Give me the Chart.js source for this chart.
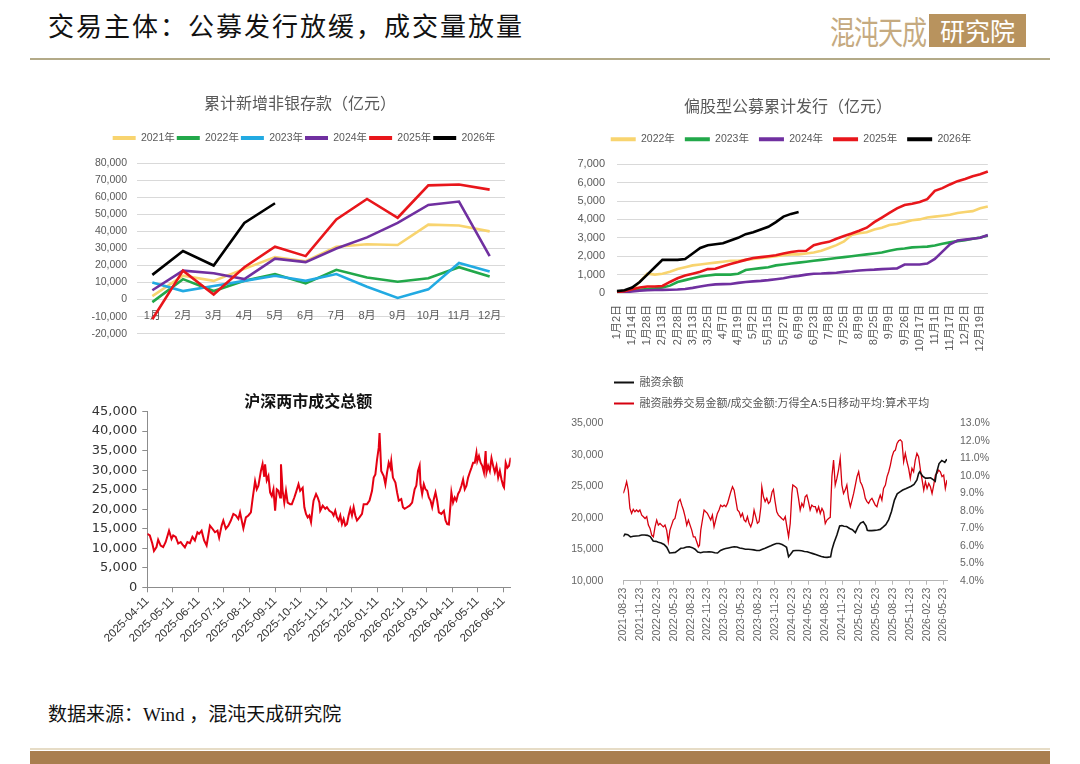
<!DOCTYPE html>
<html><head><meta charset="utf-8">
<script src="https://cdn.jsdelivr.net/npm/chart.js@4.4.1/dist/chart.umd.min.js"></script>
<style>
html,body{margin:0;padding:0;background:#fff;}
body{width:1080px;height:764px;position:relative;overflow:hidden;font-family:"Noto Sans CJK SC",sans-serif;}
.hdr{position:absolute;left:48px;top:6px;font-size:26px;line-height:38px;color:#111;letter-spacing:2px;white-space:nowrap;}
.rule{position:absolute;left:30px;top:58px;width:1020px;height:2px;background:#b3aa88;}
.logo1{position:absolute;left:830px;top:10px;font-size:25px;line-height:40px;color:#c5aa80;letter-spacing:-1px;transform:scaleY(1.25);transform-origin:left center;}
.logo2{position:absolute;left:929px;top:14px;width:97px;height:33px;background:#b8935e;color:#fff;font-size:25px;line-height:33px;text-align:center;}
.src{position:absolute;left:48px;top:700px;font-size:19px;line-height:30px;color:#111;font-family:"Liberation Serif","Noto Sans CJK SC",serif;white-space:nowrap;}
.bandline{position:absolute;left:30px;top:748px;width:1020px;height:2px;background:#e6dcc6;}
.band{position:absolute;left:30px;top:751px;width:1020px;height:13px;background:#a97e4f;}
canvas{position:absolute;}
</style></head>
<body>
<div class="hdr">交易主体：公募发行放缓，成交量放量</div>
<div class="logo1">混沌天成</div>
<div class="logo2">研究院</div>
<div class="rule"></div>
<canvas id="c1" width="470" height="262" style="left:57px;top:88px"></canvas>
<canvas id="c2" width="445" height="270" style="left:560px;top:88px"></canvas>
<canvas id="c3" width="440" height="270" style="left:90px;top:392px"></canvas>
<canvas id="c4" width="420" height="290" style="left:570px;top:367px"></canvas>
<div class="src">数据来源：Wind ，混沌天成研究院</div>
<div class="bandline"></div>
<div class="band"></div>
<script>
// ---------- Chart 1: 累计新增非银存款（亿元） ----------
const depositMonths = ['1月','2月','3月','4月','5月','6月','7月','8月','9月','10月','11月','12月'];
const deposit2021 = [2000,14000,11000,18000,25000,22500,31000,32500,32000,44000,43500,40000];
const deposit2022 = [-1500,12000,5000,11000,15000,9500,17500,13000,10500,12500,19000,13500];
const deposit2023 = [10000,5000,8000,11000,14000,11000,15000,7500,1000,6000,21500,16500];
const deposit2024 = [5500,17000,15500,12000,24000,22000,30000,36500,45000,55500,57500,25500];
const deposit2025 = [-11500,17000,3000,19000,31000,25500,47000,59000,48000,67000,67500,64500];
const deposit2026 = [14500,28500,20000,45000,56500];

// ---------- Chart 2: 偏股型公募累计发行（亿元） ----------
const fundDates = ['1月2日','1月8日','1月14日','1月21日','1月28日','2月6日','2月13日','2月21日','2月28日','3月7日',
  '3月13日','3月19日','3月25日','4月1日','4月7日','4月13日','4月19日','4月26日','5月2日','5月9日',
  '5月15日','5月21日','5月27日','6月3日','6月9日','6月16日','6月23日','7月1日','7月8日','7月17日',
  '7月25日','8月2日','8月9日','8月17日','8月25日','9月2日','9月9日','9月18日','9月26日','10月11日',
  '10月17日','10月25日','11月1日','11月9日','11月17日','11月25日','12月2日','12月10日','12月19日','12月29日'];
const fund2022 = [50,100,200,600,1050,1000,1050,1150,1300,1400,1500,1550,1600,1650,1700,1750,1750,1800,1850,1900,
  1950,2000,2050,2100,2100,2150,2200,2300,2450,2600,2800,3150,3250,3300,3450,3550,3700,3750,3850,3950,
  4000,4100,4150,4200,4250,4350,4400,4450,4600,4700];
const fund2023 = [50,80,120,180,220,250,300,400,600,700,800,900,950,1000,1000,1000,1050,1250,1300,1350,
  1400,1500,1550,1600,1650,1700,1750,1800,1850,1900,1950,2000,2050,2100,2150,2200,2300,2380,2420,2480,
  2500,2520,2580,2680,2750,2820,2870,2950,3020,3130];
const fund2024 = [30,50,80,120,150,160,170,180,190,220,280,350,420,470,480,490,550,600,630,660,
  700,750,800,880,930,1000,1050,1060,1080,1100,1150,1180,1220,1250,1270,1300,1320,1340,1550,1550,
  1550,1600,1850,2250,2650,2850,2900,2950,3000,3150];
const fund2025 = [50,100,200,300,350,350,380,600,800,950,1050,1150,1300,1320,1450,1570,1680,1800,1900,1950,
  2000,2050,2150,2230,2280,2300,2600,2700,2780,2950,3100,3230,3380,3550,3850,4100,4350,4600,4780,4850,
  4950,5100,5550,5700,5900,6080,6200,6350,6450,6600];
const fund2026 = [100,150,300,600,1000,1400,1800,1800,1800,1850,2150,2450,2600,2650,2700,2850,3000,3200,3300,3450,
  3600,3850,4150,4300,4400];

// ---------- Chart 3: 沪深两市成交总额 ----------
const turnoverTicks = ['2025-04-11','2025-05-11','2025-06-11','2025-07-11','2025-08-11','2025-09-11','2025-10-11',
  '2025-11-11','2025-12-11','2026-01-11','2026-02-11','2026-03-11','2026-04-11','2026-05-11','2026-06-11'];
const turnoverSeries = [
 ['2025-04-11',13700],['2025-04-14',13300],['2025-04-17',11200],['2025-04-19',9300],['2025-04-22',10300],['2025-04-24',12200],['2025-04-27',10700],['2025-04-30',10300],
 ['2025-05-03',11600],['2025-05-07',14500],['2025-05-10',12400],['2025-05-12',13300],['2025-05-15',12900],['2025-05-18',11200],['2025-05-21',11600],['2025-05-23',11000],['2025-05-26',10200],['2025-05-29',11600],
 ['2025-06-01',11300],['2025-06-04',12900],['2025-06-07',12000],['2025-06-10',14100],['2025-06-12',13700],['2025-06-15',14500],['2025-06-18',12000],['2025-06-21',10700],['2025-06-25',15800],['2025-06-28',15000],
 ['2025-07-01',14100],['2025-07-04',14500],['2025-07-06',12700],['2025-07-09',15800],['2025-07-11',17100],['2025-07-14',15000],['2025-07-17',15800],['2025-07-20',17100],['2025-07-23',18800],['2025-07-26',18400],['2025-07-29',17500],['2025-07-31',19200],
 ['2025-08-04',15100],['2025-08-07',17900],['2025-08-10',18400],['2025-08-13',19200],['2025-08-15',22600],['2025-08-18',27200],['2025-08-20',25100],['2025-08-22',26000],['2025-08-25',29800],['2025-08-27',31600],['2025-08-29',28300],['2025-08-30',31500],
 ['2025-09-01',27400],['2025-09-03',28500],['2025-09-05',24300],['2025-09-07',23400],['2025-09-09',25100],['2025-09-11',19600],['2025-09-13',25100],['2025-09-15',24700],['2025-09-17',23000],['2025-09-18',31500],['2025-09-20',24700],['2025-09-22',21700],['2025-09-24',24700],['2025-09-26',21700],['2025-09-29',21300],
 ['2025-10-01',21300],['2025-10-04',23000],['2025-10-06',24300],['2025-10-09',26400],['2025-10-11',24700],['2025-10-14',25500],['2025-10-16',20500],['2025-10-18',18800],['2025-10-20',17900],['2025-10-22',18400],['2025-10-24',16700],['2025-10-26',20500],['2025-10-27',22200],['2025-10-30',23900],
 ['2025-11-01',23000],['2025-11-03',21700],['2025-11-04',19600],['2025-11-07',20900],['2025-11-10',20100],['2025-11-12',20500],['2025-11-15',19600],['2025-11-18',19200],['2025-11-20',18400],['2025-11-22',19600],['2025-11-24',17900],['2025-11-26',17100],['2025-11-28',18400],['2025-11-30',16200],
 ['2025-12-02',17500],['2025-12-04',15800],['2025-12-06',16200],['2025-12-08',18400],['2025-12-10',20100],['2025-12-12',18400],['2025-12-14',20500],['2025-12-16',18400],['2025-12-18',17100],['2025-12-21',17900],['2025-12-24',18800],['2025-12-26',21300],['2025-12-30',21300],
 ['2026-01-02',22200],['2026-01-05',24700],['2026-01-07',28100],['2026-01-09',28900],['2026-01-11',32700],['2026-01-13',35700],['2026-01-14',39500],['2026-01-15',34900],['2026-01-16',29800],['2026-01-19',28500],['2026-01-21',26400],['2026-01-23',29400],['2026-01-25',31900],['2026-01-27',30600],['2026-01-28',32300],['2026-01-30',28100],
 ['2026-02-02',26800],['2026-02-04',24300],['2026-02-06',22200],['2026-02-09',22600],['2026-02-11',20500],['2026-02-13',20100],['2026-02-16',20500],['2026-02-19',20900],['2026-02-22',21700],['2026-02-25',25100],['2026-02-27',26000],
 ['2026-03-01',29800],['2026-03-03',31200],['2026-03-04',26400],['2026-03-06',23900],['2026-03-08',26400],['2026-03-10',25100],['2026-03-12',24700],['2026-03-14',23000],['2026-03-16',22200],['2026-03-18',20500],['2026-03-20',22600],['2026-03-22',24300],['2026-03-24',22200],['2026-03-26',19200],['2026-03-29',18800],
 ['2026-04-01',19600],['2026-04-03',17100],['2026-04-05',16200],['2026-04-07',16100],['2026-04-09',21300],['2026-04-10',24300],['2026-04-12',21700],['2026-04-14',23000],['2026-04-16',22200],['2026-04-18',23900],['2026-04-20',24700],['2026-04-22',26000],['2026-04-24',27600],['2026-04-26',25100],['2026-04-28',26000],['2026-04-30',28100],
 ['2026-05-02',29400],['2026-05-04',30600],['2026-05-06',31900],['2026-05-08',31900],['2026-05-10',34400],['2026-05-11',32300],['2026-05-13',33600],['2026-05-15',31900],['2026-05-17',31100],['2026-05-19',29400],['2026-05-21',34900],['2026-05-22',29400],['2026-05-24',31100],['2026-05-26',29800],['2026-05-28',33100],['2026-05-30',31100],
 ['2026-06-01',29400],['2026-06-03',31100],['2026-06-05',28100],['2026-06-07',29800],['2026-06-09',27600],['2026-06-11',26000],['2026-06-12',25600],['2026-06-14',31900],['2026-06-16',30600],['2026-06-18',31100],['2026-06-20',33200]
];

// ---------- Chart 4: 融资余额 / 两融交易占比 ----------
const marginTicks = ['2021-08-23','2021-11-23','2022-02-23','2022-05-23','2022-08-23','2022-11-23','2023-02-23','2023-05-23',
  '2023-08-23','2023-11-23','2024-02-23','2024-05-23','2024-08-23','2024-11-23','2025-02-23','2025-05-23','2025-08-23',
  '2025-11-23','2026-02-23','2026-05-23'];
const balanceSeries = [
 ['2021-08-23',17000],['2021-09-01',17400],['2021-09-16',17300],['2021-10-01',16950],['2021-10-16',17050],['2021-11-01',17100],['2021-11-16',17150],['2021-12-01',17250],['2021-12-16',17250],
 ['2022-01-01',17200],['2022-01-16',17000],['2022-02-01',16300],['2022-02-16',16250],['2022-03-01',16100],['2022-03-16',16000],['2022-04-01',15750],['2022-04-16',15300],['2022-05-01',14400],['2022-05-16',14450],['2022-06-01',14500],['2022-06-16',14800],['2022-07-01',15150],['2022-07-16',15200],['2022-08-01',15350],['2022-08-16',15400],['2022-09-01',15250],['2022-09-16',15000],['2022-10-01',14550],['2022-10-16',14450],['2022-11-01',14550],['2022-11-16',14550],['2022-12-01',14600],['2022-12-16',14550],
 ['2023-01-01',14450],['2023-01-16',14400],['2023-02-01',14800],['2023-02-16',15000],['2023-03-01',15100],['2023-03-16',15200],['2023-04-01',15300],['2023-04-16',15400],['2023-05-01',15350],['2023-05-16',15200],['2023-06-01',15100],['2023-06-16',15000],['2023-07-01',15000],['2023-07-16',14950],['2023-08-01',14900],['2023-08-16',14800],['2023-09-01',14800],['2023-09-16',15000],['2023-10-01',15150],['2023-10-16',15350],['2023-11-01',15550],['2023-11-16',15750],['2023-12-01',15900],['2023-12-16',15900],
 ['2024-01-01',15750],['2024-01-16',15500],['2024-01-25',15300],['2024-02-05',13800],['2024-02-16',14200],['2024-03-01',14750],['2024-03-16',14800],['2024-04-01',14800],['2024-04-16',14750],['2024-05-01',14650],['2024-05-16',14600],['2024-06-01',14450],['2024-06-16',14300],['2024-07-01',14150],['2024-07-16',14000],['2024-08-01',13850],['2024-08-16',13750],['2024-09-01',13700],['2024-09-20',13800],['2024-09-27',14900],['2024-10-08',16000],['2024-10-24',17250],['2024-11-08',18700],['2024-11-20',18750],['2024-12-01',18650],['2024-12-16',18600],
 ['2025-01-01',18300],['2025-01-16',18100],['2025-02-01',17650],['2025-02-16',18600],['2025-03-01',19150],['2025-03-16',19350],['2025-03-31',18700],['2025-04-07',18000],['2025-04-16',17950],['2025-05-01',17950],['2025-05-16',18000],['2025-06-01',18050],['2025-06-16',18150],['2025-07-01',18500],['2025-07-16',18900],['2025-08-01',19700],['2025-08-16',21000],['2025-09-01',22800],['2025-09-16',23800],['2025-10-01',24100],['2025-10-16',24400],['2025-11-01',24600],['2025-11-16',24800],['2025-12-01',25000],['2025-12-16',25300],
 ['2026-01-01',26000],['2026-01-10',27000],['2026-01-16',27300],['2026-02-01',26600],['2026-02-16',26300],['2026-03-01',26300],['2026-03-16',26350],['2026-04-01',26000],['2026-04-10',25800],['2026-04-16',27000],['2026-05-01',28600],['2026-05-16',29100],['2026-06-01',28800],['2026-06-12',29300]
];
const ratioSeries = [
 ['2021-08-23',9.0],['2021-09-01',9.28],['2021-09-10',9.66],['2021-09-19',9.18],['2021-09-28',8.13],['2021-10-07',7.85],['2021-10-16',8.08],['2021-10-25',7.94],['2021-11-03',8.04],['2021-11-12',7.94],['2021-11-21',8.04],['2021-12-01',7.75],['2021-12-10',7.66],['2021-12-19',7.56],['2021-12-28',7.66],
 ['2022-01-06',7.18],['2022-01-15',6.99],['2022-01-24',6.61],['2022-02-02',6.51],['2022-02-11',7.08],['2022-02-20',7.47],['2022-03-01',7.18],['2022-03-10',7.27],['2022-03-19',7.18],['2022-03-28',7.08],['2022-04-06',7.18],['2022-04-15',6.89],['2022-04-24',6.23],['2022-05-03',6.89],['2022-05-12',7.18],['2022-05-21',7.47],['2022-05-30',7.56],['2022-06-09',8.04],['2022-06-18',8.52],['2022-06-27',8.65],['2022-07-06',8.32],['2022-07-15',8.04],['2022-07-24',7.66],['2022-08-02',7.18],['2022-08-11',7.47],['2022-08-20',7.18],['2022-08-29',6.89],['2022-09-07',6.51],['2022-09-16',6.51],['2022-09-25',6.23],['2022-10-04',5.94],['2022-10-10',6.03],['2022-10-17',6.89],['2022-10-26',7.47],['2022-11-04',8.04],['2022-11-13',7.94],['2022-11-22',7.85],['2022-12-01',7.66],['2022-12-10',7.47],['2022-12-19',7.75],['2022-12-28',7.08],
 ['2023-01-06',7.47],['2023-01-15',7.85],['2023-01-24',8.04],['2023-02-02',8.32],['2023-02-11',8.23],['2023-02-21',8.32],['2023-03-02',8.23],['2023-03-11',8.42],['2023-03-20',8.76],['2023-03-29',9.09],['2023-04-07',9.37],['2023-04-16',9.18],['2023-04-25',8.61],['2023-05-04',8.04],['2023-05-13',7.94],['2023-05-22',7.66],['2023-05-31',7.85],['2023-06-09',7.47],['2023-06-18',7.37],['2023-06-27',7.66],['2023-07-06',7.28],['2023-07-15',7.08],['2023-07-24',7.37],['2023-08-02',8.04],['2023-08-11',7.66],['2023-08-20',7.28],['2023-08-29',7.37],['2023-09-08',8.23],['2023-09-13',9.37],['2023-09-22',8.8],['2023-10-01',8.52],['2023-10-10',8.71],['2023-10-19',8.42],['2023-10-28',8.52],['2023-11-08',9.09],['2023-11-15',9.22],['2023-11-24',8.52],['2023-12-03',7.94],['2023-12-12',7.75],['2023-12-21',7.66],['2023-12-30',7.56],
 ['2024-01-09',7.47],['2024-01-18',7.66],['2024-01-27',7.08],['2024-02-05',6.51],['2024-02-14',7.27],['2024-02-23',8.99],['2024-02-28',9.47],['2024-03-12',9.37],['2024-03-21',9.28],['2024-03-30',8.71],['2024-04-08',8.04],['2024-04-17',8.42],['2024-04-26',8.23],['2024-05-05',8.8],['2024-05-14',8.9],['2024-05-23',8.52],['2024-06-01',8.04],['2024-06-10',8.32],['2024-06-19',8.23],['2024-06-29',8.23],['2024-07-08',7.94],['2024-07-17',8.23],['2024-07-26',7.85],['2024-08-04',8.13],['2024-08-13',7.94],['2024-08-22',7.27],['2024-08-31',7.47],['2024-09-09',7.56],['2024-09-18',7.62],['2024-09-27',9.95],['2024-10-06',10.9],['2024-10-15',9.47],['2024-10-24',9.85],['2024-11-02',10.33],['2024-11-11',11.0],['2024-11-20',9.47],['2024-11-29',8.99],['2024-12-08',9.18],['2024-12-17',9.47],['2024-12-26',8.71],
 ['2025-01-05',8.23],['2025-01-14',8.61],['2025-01-23',8.99],['2025-02-01',9.47],['2025-02-10',9.95],['2025-02-19',10.23],['2025-02-28',9.66],['2025-03-09',9.47],['2025-03-18',9.18],['2025-03-27',8.71],['2025-04-05',8.52],['2025-04-14',8.42],['2025-04-23',8.61],['2025-05-02',8.71],['2025-05-11',8.52],['2025-05-20',8.32],['2025-05-29',8.23],['2025-06-07',8.61],['2025-06-16',8.9],['2025-06-25',8.61],['2025-07-04',9.28],['2025-07-14',9.47],['2025-07-23',9.95],['2025-08-01',10.23],['2025-08-10',10.61],['2025-08-19',11.09],['2025-08-28',11.38],['2025-09-06',11.47],['2025-09-15',11.85],['2025-09-24',12.0],['2025-10-03',12.05],['2025-10-12',11.95],['2025-10-21',10.8],['2025-10-30',11.28],['2025-11-08',10.8],['2025-11-17',10.42],['2025-11-26',9.85],['2025-12-05',10.42],['2025-12-14',10.23],['2025-12-23',10.9],
 ['2026-01-01',11.28],['2026-01-10',11.09],['2026-01-20',10.33],['2026-01-29',9.76],['2026-02-07',9.18],['2026-02-16',9.66],['2026-02-25',9.28],['2026-03-06',9.56],['2026-03-15',9.37],['2026-03-24',8.99],['2026-04-02',9.47],['2026-04-11',10.04],['2026-04-20',10.14],['2026-04-29',10.33],['2026-05-08',10.23],['2026-05-17',9.95],['2026-05-26',10.04],['2026-06-04',9.28],['2026-06-13',9.76]
];

// ---------- helpers ----------
Chart.defaults.font.family = '"Liberation Sans","Noto Sans CJK SC",sans-serif';
const dayNum = s => Date.UTC(+s.slice(0,4), +s.slice(5,7) - 1, +s.slice(8,10)) / 86400000;
const toXY = series => series.map(([d, v]) => ({ x: dayNum(d), y: v }));
const fmt = v => Number(v).toLocaleString('en-US');
const thickLegend = w => chart => Chart.defaults.plugins.legend.labels.generateLabels(chart).map(it => { it.lineWidth = w; return it; });
// extra space under the legend, optional wrap width, and horizontal nudges of legend / title boxes
const boxTweak = {
  id: 'boxTweak',
  beforeInit(chart, args, opts) {
    const fit = chart.legend.fit;
    chart.legend.fit = function () {
      if (opts.legendWidth) this.maxWidth = Math.min(this.maxWidth, opts.legendWidth);
      fit.call(this);
      this.height += (opts.extra || 0);
    };
  },
  afterLayout(chart, args, opts) {
    const lx = opts.legendDx || 0, tx = opts.titleDx || 0;
    if (chart.legend) {
      chart.legend.left += lx; chart.legend.right += lx;
      if (opts.legendWidth) chart.legend.right = chart.legend.left + opts.legendWidth;
    }
    if (tx && chart.titleBlock) { chart.titleBlock.left += tx; chart.titleBlock.right += tx; }
  }
};
const line = (label, data, color, order, width) => ({ label, data, borderColor: color, backgroundColor: color, borderWidth: width, pointRadius: 0, tension: 0, order, fill: false });
const base = { responsive: false, animation: false, events: [] };

// ---------- Chart 1 ----------
new Chart(document.getElementById('c1'), {
  type: 'line',
  data: { labels: depositMonths, datasets: [
    line('2021年', deposit2021, '#f8d46f', 6, 2.6),
    line('2022年', deposit2022, '#22a84a', 5, 2.6),
    line('2023年', deposit2023, '#22aae2', 4, 2.6),
    line('2024年', deposit2024, '#7030a0', 3, 2.6),
    line('2025年', deposit2025, '#e8161b', 2, 2.6),
    line('2026年', deposit2026, '#000000', 1, 2.6)
  ]},
  options: Object.assign({}, base, {
    layout: { padding: { left: 0, right: 22, top: 0, bottom: 14.7 } },
    plugins: {
      title: { display: true, text: '累计新增非银存款（亿元）', color: '#595959', font: { size: 16, weight: 'normal', lineHeight: 1.2 }, padding: { top: 6.5, bottom: 17 } },
      legend: { labels: { usePointStyle: true, pointStyle: 'line', pointStyleWidth: 23, padding: 2, color: '#595959', font: { size: 10.5 },
        sort: (a, b) => a.datasetIndex - b.datasetIndex, generateLabels: thickLegend(4) } },
      boxTweak: { extra: 10, legendDx: 23, titleDx: 19 },
      tooltip: { enabled: false }
    },
    scales: {
      x: { position: { y: 0 }, offset: true, grid: { display: false }, border: { display: false },
        ticks: { color: '#595959', font: { size: 11 }, padding: 2, maxRotation: 0, autoSkip: false } },
      y: { min: -20000, max: 80000, grid: { color: '#d9d9d9', drawTicks: false }, border: { display: false },
        ticks: { stepSize: 10000, color: '#595959', font: { size: 10.5 }, padding: 10, callback: fmt },
        afterFit: s => { s.width = 80; } }
    }
  }),
  plugins: [boxTweak]
});

// ---------- Chart 2 ----------
new Chart(document.getElementById('c2'), {
  type: 'line',
  data: { labels: fundDates, datasets: [
    line('2022年', fund2022, '#f8d46f', 5, 2.6),
    line('2023年', fund2023, '#22a84a', 4, 2.6),
    line('2024年', fund2024, '#7030a0', 3, 2.6),
    line('2025年', fund2025, '#e8161b', 2, 2.6),
    line('2026年', fund2026, '#000000', 1, 2.6)
  ]},
  options: Object.assign({}, base, {
    layout: { padding: { left: 0, right: 13, top: 0, bottom: 0 } },
    plugins: {
      title: { display: true, text: '偏股型公募累计发行（亿元）', color: '#595959', font: { size: 16, weight: 'normal', lineHeight: 1.2 }, padding: { top: 9.5, bottom: 7.25 } },
      legend: { labels: { usePointStyle: true, pointStyle: 'line', pointStyleWidth: 25, padding: 10, color: '#595959', font: { size: 10.5 },
        sort: (a, b) => a.datasetIndex - b.datasetIndex, generateLabels: thickLegend(4) } },
      boxTweak: { extra: 9.75, legendDx: 15, titleDx: 12 },
      tooltip: { enabled: false }
    },
    scales: {
      x: { offset: false, grid: { display: false }, border: { display: true, color: '#d9d9d9' },
        ticks: { autoSkip: false, maxRotation: 90, minRotation: 90, color: '#595959', font: { size: 11 }, padding: 4,
          callback: (v, i) => (i % 2 === 0 ? fundDates[i] : '') },
        afterFit: s => { s.height = 65; } },
      y: { min: 0, max: 7000, grid: { color: '#d9d9d9', drawTicks: false }, border: { display: false },
        ticks: { stepSize: 1000, color: '#595959', font: { size: 11 }, padding: 12, callback: fmt },
        afterFit: s => { s.width = 57; } }
    }
  }),
  plugins: [boxTweak]
});

// ---------- Chart 3 ----------
new Chart(document.getElementById('c3'), {
  type: 'line',
  data: { datasets: [ line('沪深两市成交总额', toXY(turnoverSeries), '#e50012', 1, 2) ] },
  options: Object.assign({}, base, {
    layout: { padding: { left: 0, right: 19.3, top: 0, bottom: 0 } },
    plugins: {
      title: { display: true, text: '沪深两市成交总额', color: '#111', font: { size: 16, weight: 'bold', lineHeight: 1.1 }, padding: { top: 2, bottom: 0 } },
      legend: { display: false },
      boxTweak: { titleDx: 8 },
      tooltip: { enabled: false }
    },
    scales: {
      x: { type: 'linear', min: dayNum('2025-04-11'), max: dayNum('2026-06-20'),
        afterBuildTicks: s => { s.ticks = turnoverTicks.map(d => ({ value: dayNum(d) })); },
        grid: { drawOnChartArea: false, tickLength: 5, color: '#8c8c8c' }, border: { display: true, color: '#8c8c8c' },
        ticks: { autoSkip: false, maxRotation: 45, minRotation: 45, color: '#333', font: { size: 11.5 }, padding: 2,
          callback: (v, i) => turnoverTicks[i] },
        afterFit: s => { s.height = 74.7; } },
      y: { min: 0, max: 45000, grid: { drawOnChartArea: false, tickLength: 5, color: '#8c8c8c' }, border: { display: true, color: '#8c8c8c' },
        ticks: { stepSize: 5000, color: '#333', font: { size: 13, family: '"DejaVu Sans",sans-serif' }, padding: 5, callback: fmt },
        afterFit: s => { s.width = 57.3; } }
    }
  }),
  plugins: [boxTweak]
});

// ---------- Chart 4 ----------
new Chart(document.getElementById('c4'), {
  type: 'line',
  data: { datasets: [
    Object.assign(line('融资余额', toXY(balanceSeries), '#111111', 1, 1.6), { yAxisID: 'y' }),
    Object.assign(line('融资融券交易金额/成交金额:万得全A:5日移动平均:算术平均', toXY(ratioSeries), '#d6000f', 2, 1.3), { yAxisID: 'y1' })
  ]},
  options: Object.assign({}, base, {
    layout: { padding: { left: 0, right: 0, top: 0, bottom: 0 } },
    plugins: {
      legend: { align: 'start', labels: { usePointStyle: true, pointStyle: 'line', pointStyleWidth: 20, padding: 10, color: '#555', font: { size: 11 },
        sort: (a, b) => a.datasetIndex - b.datasetIndex, generateLabels: thickLegend(1.8) } },
      boxTweak: { extra: 4.3, legendDx: 34, legendWidth: 380 },
      tooltip: { enabled: false }
    },
    scales: {
      x: { type: 'linear', min: dayNum('2021-08-23'), max: dayNum('2026-06-13'),
        afterBuildTicks: s => { s.ticks = marginTicks.map(d => ({ value: dayNum(d) })); },
        grid: { drawOnChartArea: false, tickLength: 4, color: '#b5b5b5' }, border: { display: true, color: '#b5b5b5' },
        ticks: { autoSkip: false, maxRotation: 90, minRotation: 90, color: '#666', font: { size: 10.5 }, padding: 3,
          callback: (v, i) => marginTicks[i] },
        afterFit: s => { s.height = 76.3; } },
      y: { position: 'left', min: 10000, max: 35000, grid: { display: false }, border: { display: false },
        ticks: { stepSize: 5000, color: '#666', font: { size: 10.5 }, padding: 12, callback: fmt },
        afterFit: s => { s.width = 53.3; } },
      y1: { position: 'right', min: 4, max: 13, grid: { display: false }, border: { display: false },
        ticks: { stepSize: 1, color: '#666', font: { size: 10.5 }, padding: 5, callback: v => Number(v).toFixed(1) + '%' },
        afterFit: s => { s.width = 43; } }
    }
  }),
  plugins: [boxTweak]
});
</script>
</body></html>
